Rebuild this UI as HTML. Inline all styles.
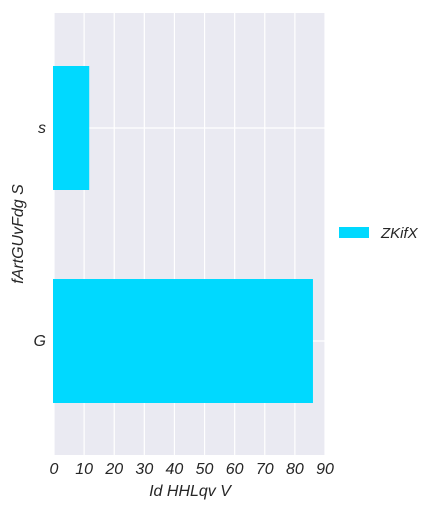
<!DOCTYPE html>
<html><head><meta charset="utf-8"><style>
body{margin:0;background:#fff;}
text{font-family:"Liberation Sans",sans-serif;font-style:italic;fill:#262626;}
</style></head><body>
<svg width="438" height="511" xmlns="http://www.w3.org/2000/svg">
<rect x="54" y="13" width="271" height="442" fill="#eaeaf2"/>
<g id="grid"></g>
<g id="bars"></g>
<g id="xticks"></g>
<g id="yticks"></g>
<text x="190" y="496" font-size="16" text-anchor="middle">Id HHLqv V</text>
<text x="0" y="0" font-size="16" text-anchor="middle" transform="translate(23,234) rotate(-90)">fArtGUvFdg S</text>
<g>
<rect x="339" y="227" width="30" height="11" fill="#00d9ff"/>
<text x="381" y="238" font-size="15">ZKifX</text>
</g>
</svg>
<script>
const categories = ["s", "G"];
const values = [11.7, 86.0];
const xTicks = [0,10,20,30,40,50,60,70,80,90];
const NS="http://www.w3.org/2000/svg";
const x0=54, x1=325, xMax=90;
const xs=v=>x0+(v/xMax)*(x1-x0);
const ys=i=>128+i*213;
const bandH=124;
function mk(tag,attrs,parent){const e=document.createElementNS(NS,tag);for(const k in attrs)e.setAttribute(k,attrs[k]);document.getElementById(parent).appendChild(e);return e;}
xTicks.forEach(t=>{
  const l=mk('line',{x1:xs(t),x2:xs(t),y1:13,y2:455,stroke:'#fff','stroke-width':1.2},'grid');
  
  
  const tx=mk('text',{x:xs(t),y:474,'font-size':16,'text-anchor':'middle'},'xticks');
  tx.textContent=t;
  
  
});
categories.forEach((c,i)=>{
  const l=mk('line',{x1:54,x2:325,y1:ys(i),y2:ys(i),stroke:'#fff','stroke-width':1.2},'grid');
  
  
  const r=mk('rect',{x:53,y:ys(i)-bandH/2,width:xs(values[i])-53,height:bandH,fill:'#00d9ff'},'bars');
  
  
  const tx=mk('text',{x:46,y:ys(i)+5,'font-size':16,'text-anchor':'end'},'yticks');
  tx.textContent=c;
  
  
});
</script>
</body></html>
